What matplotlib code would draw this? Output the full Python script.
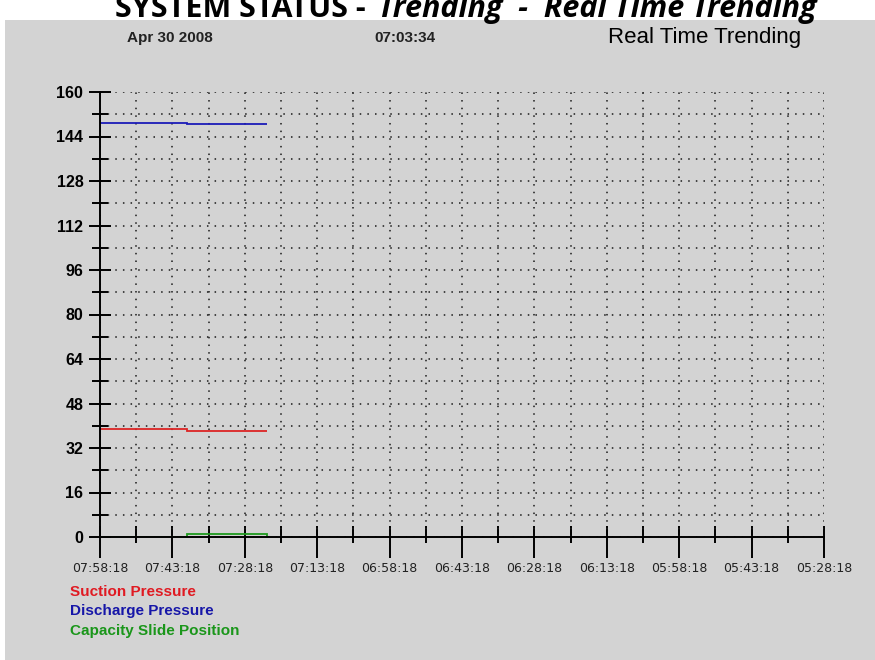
import matplotlib
matplotlib.use("Agg")
import matplotlib.pyplot as plt
from matplotlib.patches import Rectangle
from matplotlib.ticker import MultipleLocator
import numpy as np

# minutes back from 07:58:18 where each logged segment starts / ends
time_breaks = [0, 18, 34.5]
suction = [38.8, 38.2]
discharge = [148.9, 148.4]
capacity = [0.0, 0.9]

tick_labels = ["07:58:18", "07:43:18", "07:28:18", "07:13:18", "06:58:18",
               "06:43:18", "06:28:18", "06:13:18", "05:58:18", "05:43:18",
               "05:28:18"]
series_names = ["Suction Pressure", "Discharge Pressure", "Capacity Slide Position"]
line_colors = ["#dc2424", "#1c1cb8", "#1e9a1e"]
text_colors = ["#e01a22", "#1616a8", "#1a961a"]

plt.rcParams["font.family"] = ["Liberation Sans", "DejaVu Sans"]

fig = plt.figure(figsize=(8.75, 6.6), dpi=100)
fig.patch.set_facecolor("white")
fig.patches.append(Rectangle((5 / 875, 0), 870 / 875, 640 / 660,
                             transform=fig.transFigure, facecolor="#d3d3d3",
                             edgecolor="none", zorder=-5))

# cropped page title
fig.text(115 / 875, 1 - 17 / 660, "SYSTEM STATUS -", fontsize=22,
         fontweight="bold", family="Open Sans", va="baseline")
fig.text(378 / 875, 1 - 17 / 660, "Trending  -  Real Time Trending", fontsize=22,
         fontweight="bold", style="italic", family="Open Sans", va="baseline")

fig.text(170 / 875, 1 - 38 / 660, "Apr 30 2008", fontsize=11,
         fontweight="bold", ha="center", va="center", color="#222222")
fig.text(405 / 875, 1 - 38 / 660, "07:03:34", fontsize=11,
         fontweight="bold", ha="center", va="center", color="#222222")
fig.text(705 / 875, 1 - 38 / 660, "Real Time Trending", fontsize=16,
         ha="center", va="center", color="black")

ax = fig.add_axes([100 / 875, 123 / 660, 724 / 875, 445 / 660])
ax.set_facecolor("none")

ax.stairs(suction, time_breaks, baseline=None, color=line_colors[0], lw=1.3, zorder=3)
ax.stairs(discharge, time_breaks, baseline=None, color=line_colors[1], lw=1.3, zorder=3)
ax.stairs(capacity, time_breaks, baseline=0, color=line_colors[2], lw=1.3, zorder=3)

ax.set_xlim(0, 150)
ax.set_ylim(0, 160)
ax.xaxis.set_major_locator(MultipleLocator(15))
ax.xaxis.set_minor_locator(MultipleLocator(7.5))
ax.yaxis.set_major_locator(MultipleLocator(16))
ax.yaxis.set_minor_locator(MultipleLocator(8))
ax.set_xticks(np.arange(0, 151, 15), tick_labels)

for side in ["top", "right"]:
    ax.spines[side].set_visible(False)
for side in ["left", "bottom"]:
    ax.spines[side].set_linewidth(1.4)
    ax.spines[side].set_zorder(4)

ax.grid(which="both", color="#1a1a1a", linestyle=(0, (1, 4)), linewidth=1.1)

ax.tick_params(axis="y", which="major", direction="inout", length=16, width=1.4,
               labelsize=11.5, pad=4)
ax.tick_params(axis="y", which="minor", direction="inout", length=12, width=1.4)
ax.tick_params(axis="x", which="major", direction="out", length=15, width=1.4,
               labelsize=9, pad=3, labelcolor="#222222")
ax.tick_params(axis="x", which="minor", direction="out", length=4, width=1.4)
for lab in ax.get_yticklabels():
    lab.set_fontweight("bold")
for lab in ax.get_xticklabels():
    lab.set_family("DejaVu Sans")

# short tick stubs rising above the time axis
top = ax.secondary_xaxis(0)
top.xaxis.set_major_locator(MultipleLocator(7.5))
top.tick_params(direction="in", length=8, width=1.4, labelbottom=False)
top.spines["bottom"].set_visible(False)

for i, name in enumerate(series_names):
    fig.text(70 / 875, 1 - (592 + 19.5 * i) / 660, name, fontsize=11,
             fontweight="bold", color=text_colors[i], va="center")

fig.savefig("out.png", dpi=100)
